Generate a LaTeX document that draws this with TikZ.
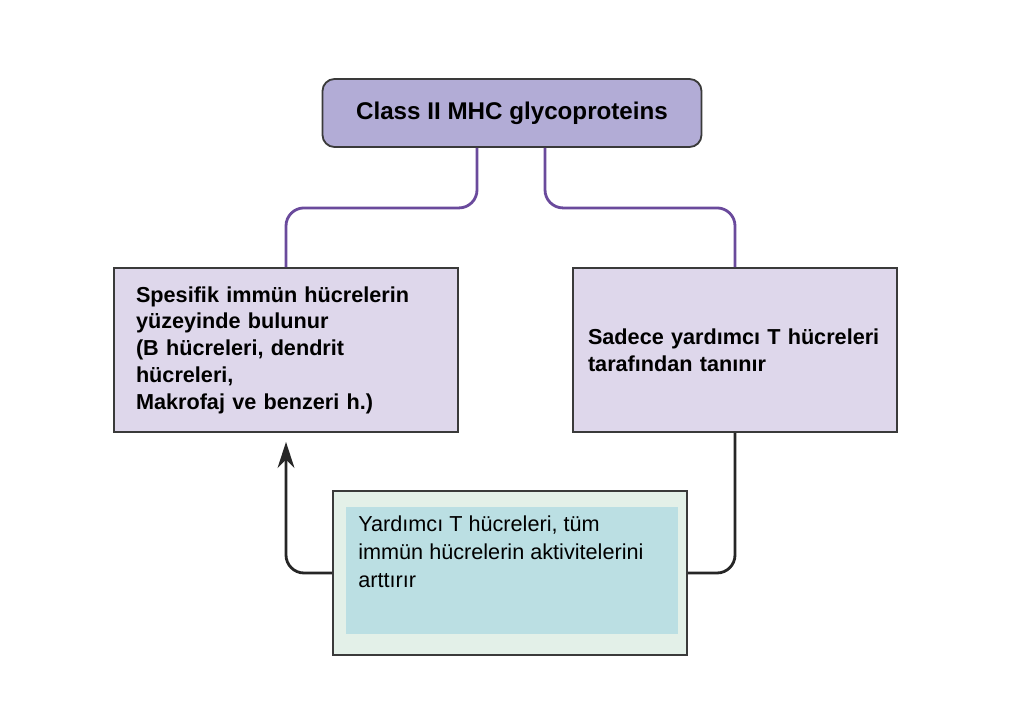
\documentclass[tikz,border=0pt]{standalone}
\usepackage{fontspec}
\setmainfont{Liberation Sans}
\usetikzlibrary{arrows.meta, calc}

\definecolor{titlefill}{HTML}{B2ACD6}
\definecolor{boxfill}{HTML}{DED7EB}
\definecolor{boxdraw}{HTML}{3A3A3A}
\definecolor{linkpurple}{HTML}{6A4A9C}
\definecolor{palegreen}{HTML}{E3F0E8}
\definecolor{paleteal}{HTML}{BBDFE3}

\begin{document}
\begin{tikzpicture}[x=0.025cm,y=-0.025cm,
		every node/.style={font=\fontsize{15.4}{19}\selectfont\bfseries},
		infobox/.style={draw=boxdraw,line width=1.3pt,fill=boxfill,align=left,minimum height=164*\px},
		purpline/.style={linkpurple,line width=2pt,rounded corners=18*\px},
		blackline/.style={black!85,line width=2pt,rounded corners=18*\px}]
		\def\px{0.025cm}
		
		\useasboundingbox (0,0) rectangle (1024,724);
		
		% boxes
		\node[draw=boxdraw,line width=1.3pt,fill=titlefill,rounded corners=12*\px,
			minimum width=379*\px,minimum height=68*\px,
			font=\fontsize{17.2}{20}\selectfont\bfseries] (title) at (512,113) {Class II MHC glycoproteins};
		\node[infobox,inner xsep=22*\px,text width=300*\px] (left) at (286,350)
			{Spesifik immün hücrelerin\\yüzeyinde bulunur\\(B hücreleri, dendrit\\hücreleri,\\Makrofaj ve benzeri h.)};
		\node[infobox,inner xsep=15*\px,text width=294*\px] (right) at (735,350)
			{Sadece yardımcı T hücreleri\\tarafından tanınır};
		
		\node[draw=boxdraw,line width=1.3pt,fill=palegreen,minimum width=354*\px,minimum height=164*\px] (helper) at (510,573) {};
		\node[fill=paleteal,inner sep=0pt,minimum width=332*\px,minimum height=127*\px] (helperin) at (512,570.5) {};
		\node[anchor=north west,inner sep=0pt,align=left,font=\fontsize{15.4}{19.6}\selectfont] (helpertxt) at (358,516)
			{Yardımcı T hücreleri, tüm\\immün hücrelerin aktivitelerini\\arttırır};
		
		% connectors
		\draw[purpline] ($(title.south)+(-35,0)$) -- ++(0,60) -| (left.north);
		\draw[purpline] ($(title.south)+(33,0)$) -- ++(0,60) -| (right.north);
		\draw[blackline] (right.south) |- (helper.east);
		\draw[blackline,-{Stealth[length=6.5mm,width=4.2mm]}] (helper.west) -| ($(left.south)+(0,9)$);
	\end{tikzpicture}
\end{document}
